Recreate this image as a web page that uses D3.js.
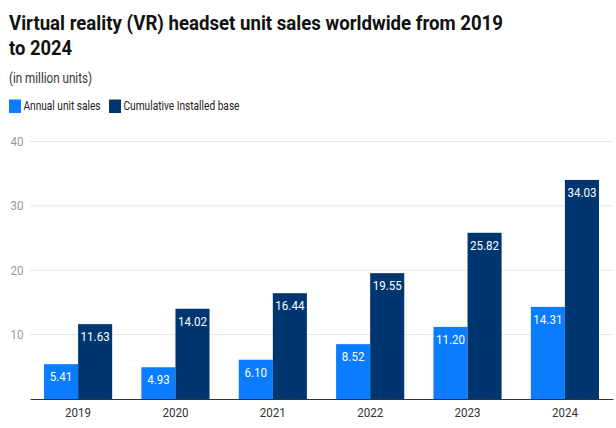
<!DOCTYPE html>
<html>
<head>
<meta charset="utf-8">
<script src="https://cdn.jsdelivr.net/npm/d3@7"></script>
<style>
body{margin:0;background:#fff;}
svg{display:block;font-family:Roboto,"Noto Sans",sans-serif;}
</style>
</head>
<body>
<svg id="chart" width="616" height="428"></svg>
<script>
const categories = ["2019","2020","2021","2022","2023","2024"];
const seriesNames = ["Annual unit sales","Cumulative Installed base"];
const annualSales = [5.41,4.93,6.10,8.52,11.20,14.31];
const installedBase = [11.63,14.02,16.44,19.55,25.82,34.03];
const yTicks = [10,20,30,40];
const colors = ["#0a7cff","#003670"];

const svg = d3.select("#chart");
const plotL = 30, plotR = 613, plotT = 141.5, plotB = 399;
const squeeze = 0.89;

function fit(sel, w){
  sel.each(function(){
    const len = this.getComputedTextLength();
    const target = w != null ? w : len*squeeze;
    d3.select(this).attr("textLength", target).attr("lengthAdjust","spacingAndGlyphs");
  });
}

svg.append("text").attr("x",9).attr("y",30).attr("font-size",21).attr("font-weight","bold").attr("fill","#111")
  .text("Virtual reality (VR) headset unit sales worldwide from 2019").call(fit, 494);
svg.append("text").attr("x",9).attr("y",55).attr("font-size",21).attr("font-weight","bold").attr("fill","#111")
  .text("to 2024").call(fit, 63);
svg.append("text").attr("x",9).attr("y",83).attr("font-size",14).attr("fill","#333").text("(in million units)").call(fit, 83);

// legend
const legX = [9,109];
const legW = [77,116];
seriesNames.forEach((n,i)=>{
  svg.append("rect").attr("x",legX[i]).attr("y",99.5).attr("width",12).attr("height",13.5).attr("fill",colors[i]);
  svg.append("text").attr("x",legX[i]+14.5).attr("y",110).attr("font-size",13).attr("fill","#222").text(n).call(fit, legW[i]);
});

const x = d3.scaleBand().domain(categories).range([plotL,plotR]).paddingInner(0.3).paddingOuter(0.144);
const xs = d3.scaleBand().domain([0,1]).range([0,x.bandwidth()]);
const y = d3.scaleLinear().domain([0,40]).range([plotB,plotT]);

// grid
const g = svg.append("g");
g.selectAll("line.grid").data(yTicks).join("line")
  .attr("x1",plotL).attr("x2",plotR).attr("y1",d=>y(d)).attr("y2",d=>y(d))
  .attr("stroke","#e6e6e6").attr("stroke-width",1);
g.selectAll("text.ytick").data(yTicks).join("text")
  .attr("x",23.5).attr("y",d=>y(d)+4.5).attr("text-anchor","end").attr("font-size",13).attr("fill","#999")
  .text(d=>d).call(fit);

const data = categories.map((c,i)=>({c, v:[annualSales[i], installedBase[i]]}));
const grp = svg.append("g").selectAll("g").data(data).join("g").attr("transform",d=>`translate(${x(d.c)},0)`);
grp.selectAll("rect").data(d=>d.v.map((v,k)=>({v,k}))).join("rect")
  .attr("x",d=>xs(d.k)).attr("width",xs.bandwidth())
  .attr("y",d=>y(d.v)).attr("height",d=>y(0)-y(d.v)).attr("fill",d=>colors[d.k]);
grp.selectAll("text").data(d=>d.v.map((v,k)=>({v,k}))).join("text")
  .attr("x",d=>xs(d.k)+xs.bandwidth()/2).attr("y",d=>y(d.v)+17)
  .attr("text-anchor","middle").attr("font-size",13).attr("fill","#fff")
  .text(d=>d.v.toFixed(2)).call(fit);

// axis
const xAxis = d3.axisBottom(x).tickSize(0).tickPadding(9);
const ax = svg.append("g").attr("transform",`translate(0,${plotB})`).call(xAxis);
ax.select(".domain").attr("stroke","#333").attr("stroke-width",1.2);
ax.selectAll("text").attr("font-size",13).attr("fill","#333").attr("font-family","Roboto,sans-serif").call(fit);
</script>
</body>
</html>
